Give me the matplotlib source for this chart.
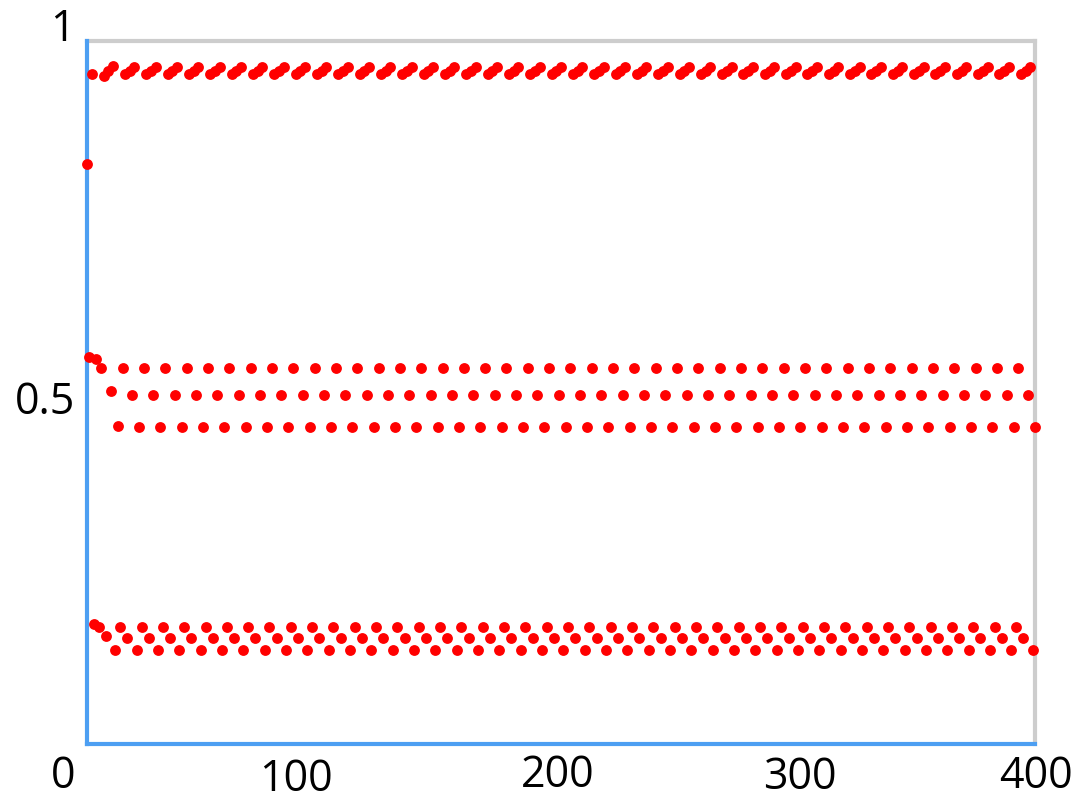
import numpy as np
import matplotlib
matplotlib.use("Agg")
import matplotlib.pyplot as plt

plt.rcParams['font.family'] = ['Open Sans', 'DejaVu Sans']

# first iterates (n = 0..13)
start_y = [0.825, 0.551, 0.953, 0.170, 0.548, 0.166, 0.535,
           0.950, 0.153, 0.957, 0.502, 0.964, 0.134, 0.453]
# the settled orbit repeats roughly every 9 steps
cycle_y = [0.166, 0.535, 0.953, 0.151, 0.958, 0.497, 0.963, 0.134, 0.451]
n_last = 400

x_ticks = [0, 100, 200, 300, 400]
y_ticks = [0.5, 1]

n_rest = n_last + 1 - len(start_y)
y = np.concatenate([start_y, np.resize(cycle_y, n_rest)])
x = np.arange(len(y))

fig = plt.figure(figsize=(10.91, 8.12), dpi=100)
ax = fig.add_axes([87 / 1091, 67 / 812, 948 / 1091, 703 / 812])

ax.plot(x, y, 'o', color='#ff0000', markersize=7.8, markeredgewidth=0,
        clip_on=False, zorder=5)

ax.set_xlim(0, 400)
ax.set_ylim(0, 1)

blue = '#4d9ff2'
grey = '#cdcdcd'
ax.spines['left'].set_color(blue)
ax.spines['bottom'].set_color(blue)
ax.spines['top'].set_color(grey)
ax.spines['right'].set_color(grey)
for s in ax.spines.values():
    s.set_linewidth(3)
ax.spines['left'].set_zorder(3)
ax.spines['bottom'].set_zorder(3)

ax.set_xticks([])
ax.set_yticks([])

# tick labels, nudged where the original places them
fs = 31
x_off = {0: (-24, -32), 100: (-28, -35), 200: (-3, -31), 300: (2, -33), 400: (1, -32)}
for v in x_ticks:
    dx, dy = x_off[v]
    ax.annotate(str(v), xy=(v, 0), xycoords=('data', 'axes fraction'),
                xytext=(dx, dy), textcoords='offset pixels',
                ha='center', va='center', fontsize=fs, annotation_clip=False)

y_off = {0.5: (-42, -9), 1: (-25, 12)}
for v in y_ticks:
    dx, dy = y_off[v]
    ax.annotate(f'{v:g}', xy=(0, v), xycoords=('axes fraction', 'data'),
                xytext=(dx, dy), textcoords='offset pixels',
                ha='center', va='center', fontsize=fs, annotation_clip=False)

fig.savefig('out.png', dpi=100)
